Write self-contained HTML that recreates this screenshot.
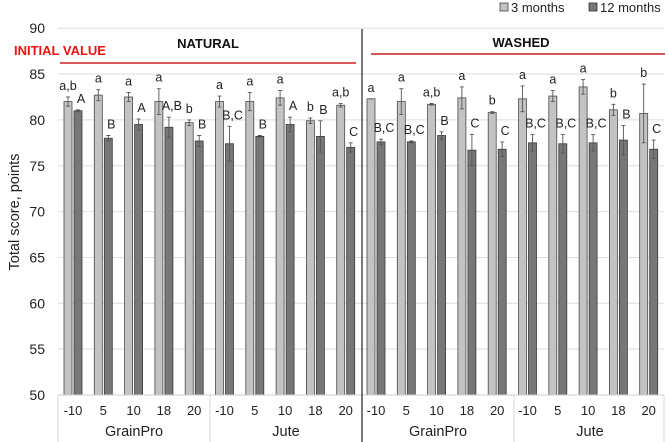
<!DOCTYPE html>
<html><head><meta charset="utf-8"><style>
body{margin:0;background:#fff;}
svg{display:block;font-family:"Liberation Sans",sans-serif;}
</style></head><body>
<svg id="c" width="669" height="442" viewBox="0 0 669 442"></svg>
<script>
const temps=["-10","5","10","18","20","-10","5","10","18","20","-10","5","10","18","20","-10","5","10","18","20"];
const v3=[82.0,82.7,82.5,82.0,79.7,82.0,82.0,82.4,79.9,81.6,82.3,82.0,81.7,82.4,80.8,82.3,82.6,83.6,81.1,80.7];
const e3=[0.5,0.6,0.5,1.4,0.3,0.6,1.0,0.8,0.3,0.2,0.0,1.4,0.1,1.2,0.1,1.4,0.6,0.8,0.6,3.2];
const v12=[81.0,78.0,79.5,79.2,77.7,77.4,78.2,79.5,78.2,77.0,77.6,77.6,78.3,76.7,76.8,77.5,77.4,77.5,77.8,76.8];
const e12=[0.1,0.3,0.6,1.1,0.6,1.9,0.1,0.8,1.7,0.5,0.3,0.1,0.4,1.7,0.8,0.9,1.0,0.9,1.6,1.0];
const l3=["a,b","a","a","a","b","a","a","a","b","a,b","a","a","a,b","a","b","a","a","a","b","b"];
const l12=["A","B","A","A,B","B","B,C","B","A","B","C","B,C","B,C","B","C","C","B,C","B,C","B,C","B","C"];
const yTicks=[50,55,60,65,70,75,80,85,90];
const groups=["GrainPro","Jute","GrainPro","Jute"];
const svg=document.getElementById('c');const NS='http://www.w3.org/2000/svg';
function mk(t,a,txt){const e=document.createElementNS(NS,t);for(const k in a)e.setAttribute(k,a[k]);if(txt!==undefined)e.textContent=txt;svg.appendChild(e);return e;}
const y=v=>395-(v-50)*9.17;
const cx=i=>73+i*30.3;
yTicks.forEach(t=>{if(t>50){const g=mk('line',{x1:58,x2:664,y1:y(t),y2:y(t),stroke:'#dedede'});}
const l=mk('text',{x:45,y:y(t)+5,'text-anchor':'end','font-size':14,fill:'#222'},t);});
const yt=mk('text',{x:19,y:212,'text-anchor':'middle','font-size':14.5,fill:'#222',transform:'rotate(-90 19 212)'},'Total score, points');

function bar(x,v,e,fill,stroke,name,lab,dx){
const b=mk('rect',{x:x,y:y(v),width:8,height:395-y(v),fill:fill,stroke:stroke,'stroke-width':0.8});

const m=x+4;
const eb=mk('path',{d:`M${m} ${y(v+e)}V${y(v-e)}M${m-2} ${y(v+e)}H${m+2}M${m-2} ${y(v-e)}H${m+2}`,stroke:'#555','stroke-width':0.9,fill:'none'});

const t=mk('text',{x:m+dx,y:y(v+e)-7,'text-anchor':'middle','font-size':12.5,fill:'#222'},lab);
}
temps.forEach((tp,i)=>{const c=cx(i);
bar(c-9,v3[i],e3[i],'#c3c3c3','#4a4a4a','bar-3m-'+i,l3[i],0);
bar(c+1,v12[i],e12[i],'#777','#3a3a3a','bar-12m-'+i,l12[i],3);
const t=mk('text',{x:c,y:415,'text-anchor':'middle','font-size':13,fill:'#222'},tp);
});
mk('line',{x1:58,x2:664,y1:395,y2:395,stroke:'#ccc'});
[58,210,514,664].forEach(x=>mk('line',{x1:x,x2:x,y1:395,y2:442,stroke:'#d8d8d8'}));
groups.forEach((g,i)=>{const t=mk('text',{x:134+i*152,y:436,'text-anchor':'middle','font-size':14.5,fill:'#222'},g);
});
const sep=mk('line',{x1:362,x2:362,y1:29,y2:442,stroke:'#222','stroke-width':1.2});
mk('line',{x1:60,x2:356,y1:63,y2:63,stroke:'#d42020','stroke-width':1.4});
mk('line',{x1:371,x2:665,y1:54,y2:54,stroke:'#c02020','stroke-width':1.4});
const iv=mk('text',{x:14,y:55,'font-size':13,'font-weight':'bold',fill:'#ee1111'},'INITIAL VALUE');
const nt=mk('text',{x:208,y:48,'text-anchor':'middle','font-size':13,'font-weight':'bold',fill:'#111'},'NATURAL');
const wt=mk('text',{x:521,y:47,'text-anchor':'middle','font-size':13,'font-weight':'bold',fill:'#111'},'WASHED');
const r1=mk('rect',{x:500,y:3,width:8,height:8,fill:'#c3c3c3',stroke:'#444','stroke-width':0.8});
const t1=mk('text',{x:511,y:12,'font-size':13,fill:'#222'},'3 months');
const r2=mk('rect',{x:589,y:3,width:8,height:8,fill:'#777',stroke:'#333','stroke-width':0.8});
const t2=mk('text',{x:600,y:12,'font-size':13,fill:'#222'},'12 months');
</script>
</body></html>
